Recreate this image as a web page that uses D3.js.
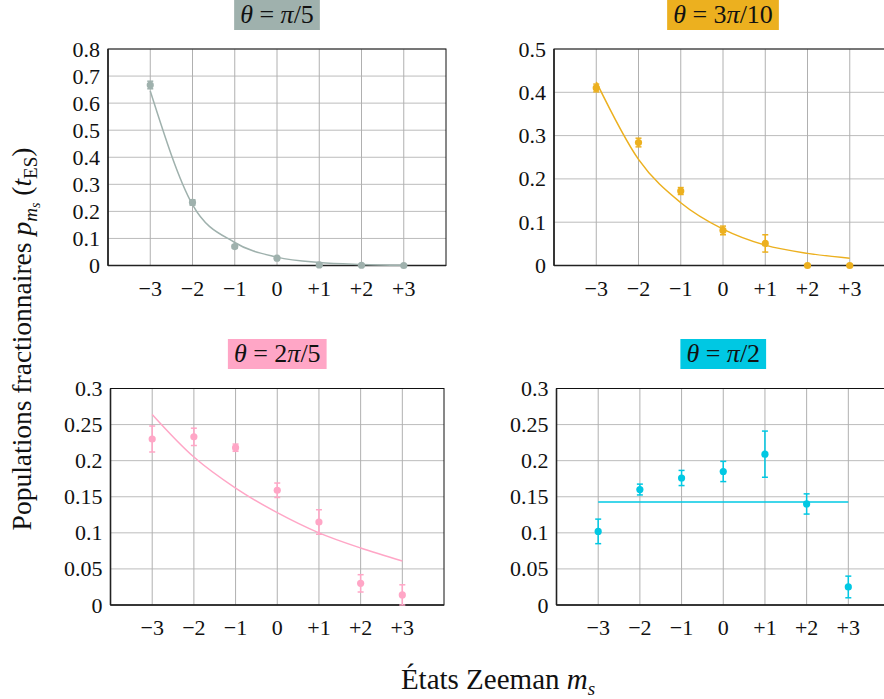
<!DOCTYPE html>
<html>
<head>
<meta charset="utf-8">
<script src="https://cdn.jsdelivr.net/npm/d3@7"></script>
<style>
  html, body { margin: 0; padding: 0; background: #fff; }
  svg { display: block; }
  svg text { font-family: "Liberation Serif", "Times New Roman", "DejaVu Serif", serif; }
</style>
</head>
<body>
<svg id="chart" width="884" height="699"></svg>
<script>
// ---- data ----
const states = [-3, -2, -1, 0, 1, 2, 3];
const stateLabels = ["\u22123", "\u22122", "\u22121", "0", "+1", "+2", "+3"];

const titles = [["π", "/5"], ["3π", "/10"], ["2π", "/5"], ["π", "/2"]];
const colors = ["#9fb1ad", "#ecb01f", "#ffa6c6", "#00c8e3"];
const yMaxes = [0.8, 0.5, 0.3, 0.3];
const yTickSteps = [0.1, 0.1, 0.05, 0.05];

const pop1 = [0.667, 0.233, 0.070, 0.027, 0.002, 0.001, 0.000];
const err1 = [0.014, 0.010, 0.006, 0.005, 0.001, 0.001, 0.001];
const fit1 = [0.645, 0.225, 0.085, 0.031, 0.011, 0.004, 0.001];

const pop2 = [0.410, 0.284, 0.172, 0.081, 0.051, 0.000, 0.000];
const err2 = [0.009, 0.010, 0.008, 0.010, 0.020, 0.001, 0.001];
const fit2 = [0.424, 0.245, 0.145, 0.084, 0.047, 0.028, 0.017];

const pop3 = [0.230, 0.233, 0.218, 0.159, 0.115, 0.030, 0.014];
const err3 = [0.018, 0.012, 0.005, 0.010, 0.017, 0.012, 0.014];
const fit3 = [0.264, 0.205, 0.162, 0.128, 0.100, 0.079, 0.061];

const pop4 = [0.102, 0.160, 0.176, 0.185, 0.209, 0.140, 0.025];
const err4 = [0.017, 0.0075, 0.0105, 0.014, 0.032, 0.014, 0.015];
const fit4 = [0.1428, 0.1428, 0.1428, 0.1428, 0.1428, 0.1428, 0.1428];

const pops = [pop1, pop2, pop3, pop4];
const errs = [err1, err2, err3, err4];
const fits = [fit1, fit2, fit3, fit4];
const smoothFit = [true, true, false, false];

// ---- layout ----
const panels = [
  { left: 108, right: 446, top: 49, bottom: 265.5, titleY: 0 },
  { left: 554, right: 892, top: 49, bottom: 265.5, titleY: 0 },
  { left: 110.5, right: 444, top: 388.5, bottom: 605, titleY: 339 },
  { left: 556.5, right: 890, top: 388.5, bottom: 605, titleY: 339 }
];

const svg = d3.select("#chart");

panels.forEach((p, i) => {
  const x = d3.scaleLinear().domain([-4, 4]).range([p.left, p.right]);
  const y = d3.scaleLinear().domain([0, yMaxes[i]]).range([p.bottom, p.top]);
  const g = svg.append("g");
  const color = colors[i];

  const nT = Math.round(yMaxes[i] / yTickSteps[i]);
  const yTicks = d3.range(nT + 1).map(k => +(k * yTickSteps[i]).toFixed(3));

  // grid
  g.selectAll(".hg").data(yTicks).join("line")
    .attr("x1", p.left).attr("x2", p.right)
    .attr("y1", d => y(d)).attr("y2", d => y(d))
    .attr("stroke", "#bcbcbc").attr("stroke-width", 1);
  g.selectAll(".vg").data(states).join("line")
    .attr("x1", d => x(d)).attr("x2", d => x(d))
    .attr("y1", p.top).attr("y2", p.bottom)
    .attr("stroke", "#b0b0b0").attr("stroke-width", 1);

  // frame
  g.append("rect").attr("x", p.left).attr("y", p.top)
    .attr("width", p.right - p.left).attr("height", p.bottom - p.top)
    .attr("fill", "none").attr("stroke", "#111").attr("stroke-width", 1);
  g.append("line").attr("x1", p.left).attr("x2", p.right)
    .attr("y1", p.bottom).attr("y2", p.bottom)
    .attr("stroke", "#222").attr("stroke-width", 1.6);
  g.append("line").attr("x1", p.left).attr("x2", p.left)
    .attr("y1", p.top).attr("y2", p.bottom)
    .attr("stroke", "#222").attr("stroke-width", 1.6);

  // y tick labels
  const fmt = yTickSteps[i] < 0.1 ? (d => d === 0 ? "0" : String(d)) : (d => d === 0 ? "0" : d.toFixed(1));
  g.selectAll(".yl").data(yTicks).join("text")
    .attr("x", p.left - 8).attr("y", d => y(d) + 7.5)
    .attr("text-anchor", "end").attr("font-size", 22).attr("fill", "#111")
    .text(fmt);

  // x tick labels
  g.selectAll(".xl").data(states).join("text")
    .attr("x", d => x(d)).attr("y", p.bottom + 30)
    .attr("text-anchor", "middle").attr("font-size", 22).attr("fill", "#111")
    .text((d, k) => stateLabels[k]);

  // fit
  const line = d3.line().x((d, k) => x(states[k])).y(d => y(d))
    .curve(smoothFit[i] ? d3.curveMonotoneX : d3.curveCatmullRom);
  g.append("path").datum(fits[i]).attr("d", line)
    .attr("fill", "none").attr("stroke", color).attr("stroke-width", 1.5);

  // error bars
  const data = states.map((s, k) => ({ s, v: pops[i][k], e: errs[i][k] }));
  const eb = g.selectAll(".eb").data(data).join("g");
  eb.append("line")
    .attr("x1", d => x(d.s)).attr("x2", d => x(d.s))
    .attr("y1", d => y(Math.max(0, d.v - d.e))).attr("y2", d => y(d.v + d.e))
    .attr("stroke", color).attr("stroke-width", 1.5);
  eb.append("line")
    .attr("x1", d => x(d.s) - 3).attr("x2", d => x(d.s) + 3)
    .attr("y1", d => y(d.v + d.e)).attr("y2", d => y(d.v + d.e))
    .attr("stroke", color).attr("stroke-width", 1.5);
  eb.append("line")
    .attr("x1", d => x(d.s) - 3).attr("x2", d => x(d.s) + 3)
    .attr("y1", d => y(Math.max(0, d.v - d.e))).attr("y2", d => y(Math.max(0, d.v - d.e)))
    .attr("stroke", color).attr("stroke-width", 1.5);
  g.selectAll(".pt").data(data).join("circle")
    .attr("cx", d => x(d.s)).attr("cy", d => y(d.v)).attr("r", 3.6)
    .attr("fill", color);

  // title
  const cx = (p.left + p.right) / 2;
  const tg = g.append("g");
  const t = tg.append("text").attr("x", cx).attr("y", p.titleY + 23)
    .attr("text-anchor", "middle").attr("font-size", 26).attr("fill", "#111");
  t.append("tspan").attr("font-style", "italic").text("θ");
  t.append("tspan").text(" = " + (titles[i][0].length > 1 ? titles[i][0][0] : ""));
  t.append("tspan").attr("font-style", "italic").text("π");
  t.append("tspan").text(titles[i][1]);
  const bb = t.node().getBBox();
  tg.insert("rect", "text")
    .attr("x", bb.x - 6).attr("y", p.titleY)
    .attr("width", bb.width + 12).attr("height", 30)
    .attr("fill", color);
});

// axis titles
const yl = svg.append("text")
  .attr("transform", "translate(31,339) rotate(-90)")
  .attr("text-anchor", "middle").attr("font-size", 27.5).attr("fill", "#111");
yl.append("tspan").text("Populations fractionnaires ");
yl.append("tspan").attr("font-style", "italic").text("p");
yl.append("tspan").attr("font-style", "italic").attr("font-size", 19).attr("dy", 6).text("m");
yl.append("tspan").attr("font-style", "italic").attr("font-size", 14).attr("dy", 3).text("s");
yl.append("tspan").attr("dy", -9).text(" (");
yl.append("tspan").attr("font-style", "italic").text("t");
yl.append("tspan").attr("font-size", 19).attr("dy", 6).text("ES");
yl.append("tspan").attr("dy", -6).text(")");

const xl = svg.append("text")
  .attr("x", 498).attr("y", 689)
  .attr("text-anchor", "middle").attr("font-size", 29).attr("fill", "#111");
xl.append("tspan").text("États Zeeman ");
xl.append("tspan").attr("font-style", "italic").text("m");
xl.append("tspan").attr("font-style", "italic").attr("font-size", 19).attr("dy", 6).text("s");
</script>
</body>
</html>
